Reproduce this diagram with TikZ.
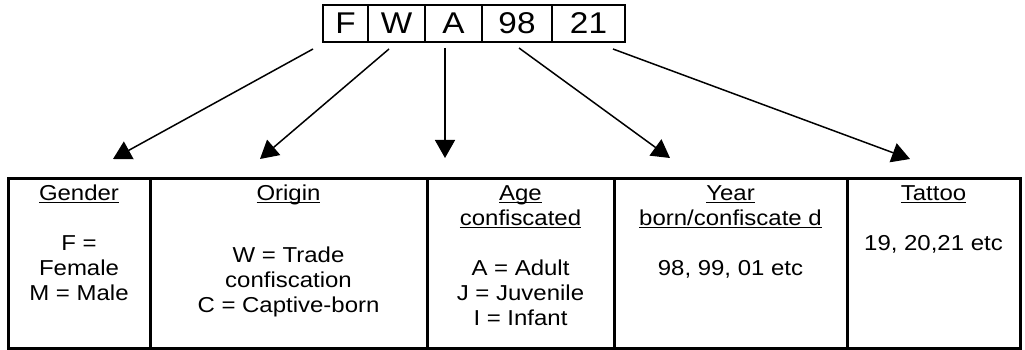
\documentclass[tikz,border=0pt]{standalone}
\usepackage{fontspec}
\setmainfont{Liberation Sans}
\newfontfamily\widefont{Liberation Sans}[FakeStretch=1.11]
\usetikzlibrary{arrows.meta}
\newcommand{\ulhd}[1]{\setbox0=\hbox{#1}\rlap{\rule[-3pt]{\wd0}{1.5pt}}\box0}

\begin{document}
\begin{tikzpicture}[x=1pt,y=-1pt]
\tikzstyle{code box}=[draw,line width=2.5pt,minimum height=37pt,inner sep=0pt,font=\widefont\fontsize{30}{30}\selectfont]
\tikzset{
	cell box/.style={draw,line width=3pt,minimum height=170pt,inner sep=0pt},
	cell text/.style={align=center,anchor=base,inner sep=0pt,font=\widefont\fontsize{21.6}{25}\selectfont},
	code arrow/.style={-{Triangle[length=18pt,width=20pt]},line width=1.5pt}
}
\useasboundingbox (0,0) rectangle (1025,350);
% the code
\node[code box,minimum width=45pt] (F) at (345.5,23.5) {F};
\node[code box,minimum width=57pt] (W) at (396.5,23.5) {W};
\node[code box,minimum width=57pt] (A) at (453.5,23.5) {A};
\node[code box,minimum width=70pt] (98) at (517,23.5) {98};
\node[code box,minimum width=73pt] (21) at (588.5,23.5) {21};
% the table (text is placed at the baseline of its last line)
\node[cell box,minimum width=142pt] (gender) at (79,263) {};
\node[cell box,minimum width=277pt] (origin) at (288.5,263) {};
\node[cell box,minimum width=187pt] (age) at (520.5,263) {};
\node[cell box,minimum width=233pt] (year) at (730.5,263) {};
\node[cell box,minimum width=173pt] (tattoo) at (933.5,263) {};
\node[cell text] (gender head) at (79,200) {\ulhd{Gender}};
\node[cell text] (gender body) at (79,300) {F =\\Female\\M = Male};
\node[cell text] (origin head) at (288.5,200) {\ulhd{Origin}};
\node[cell text] (origin body) at (288.5,312) {W = Trade\\confiscation\\C = Captive-born};
\node[cell text] (age head) at (520.5,225) {\ulhd{Age}\\\ulhd{confiscated}};
\node[cell text] (age body) at (520.5,325) {A = Adult\\J = Juvenile\\I = Infant};
\node[cell text] (year head) at (730.5,225) {\ulhd{Year}\\\ulhd{born/confiscate d}};
\node[cell text] (year body) at (730.5,275) {98, 99, 01 etc};
\node[cell text] (tattoo head) at (933.5,200) {\ulhd{Tattoo}};
\node[cell text] (tattoo body) at (933.5,250) {19, 20,21 etc};
% arrows
\coordinate (F start) at (313,49);
\coordinate (W start) at (389,49);
\coordinate (A start) at (445,48);
\coordinate (98 start) at (519,48);
\coordinate (21 start) at (613,49);
\coordinate (gender tip) at (113,159);
\coordinate (origin tip) at (260,159);
\coordinate (age tip) at (445,158);
\coordinate (year tip) at (670,158);
\coordinate (tattoo tip) at (910,159);
\draw[code arrow] (F start) -- (gender tip);
\draw[code arrow] (W start) -- (origin tip);
\draw[code arrow] (A start) -- (age tip);
\draw[code arrow] (98 start) -- (year tip);
\draw[code arrow] (21 start) -- (tattoo tip);
\end{tikzpicture}
\end{document}
